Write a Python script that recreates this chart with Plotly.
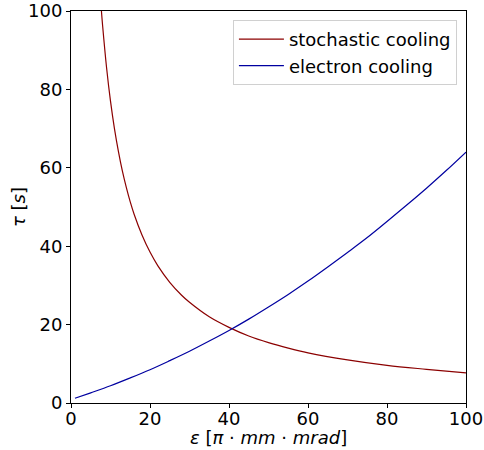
import plotly.graph_objects as go

# Stochastic cooling: emittance vs cooling time
eps_stoch = [7.7, 8, 9, 10, 11, 12, 13, 14, 15, 16, 18, 20, 22, 25, 28, 30,
             35, 40, 45, 50, 55, 60, 70, 80, 90, 100]
tau_stoch = [100, 96.3, 85.6, 77.0, 70.0, 64.2, 59.2, 55.0, 51.3, 48.1, 42.8,
             38.5, 35.0, 30.8, 27.5, 25.7, 22.0, 19.3, 17.1, 15.4, 14.0, 12.8,
             11.0, 9.6, 8.6, 7.7]

# Electron cooling
eps_elec = [1, 5, 10, 15, 20, 25, 30, 35, 40, 45, 50, 55, 60, 65, 70, 75, 80,
            85, 90, 95, 100]
tau_elec = [1.2, 2.6, 4.4, 6.4, 8.5, 10.8, 13.2, 15.8, 18.5, 21.4, 24.5, 27.7,
            31.1, 34.7, 38.4, 42.2, 46.3, 50.5, 54.8, 59.3, 64.0]

xticks = [0, 20, 40, 60, 80, 100]
yticks = [0, 20, 40, 60, 80, 100]
x_title = "<i>ε</i> [<i>π</i> · <i>mm</i> · <i>mrad</i>]"
y_title = "<i>τ</i> [<i>s</i>]"

fig = go.Figure()
fig.add_trace(go.Scatter(x=eps_stoch, y=tau_stoch, mode="lines",
                         name="stochastic cooling",
                         line=dict(color="#8b0000", width=1.2, shape="spline")))
fig.add_trace(go.Scatter(x=eps_elec, y=tau_elec, mode="lines",
                         name="electron cooling",
                         line=dict(color="#0000a0", width=1.2, shape="spline")))

font = dict(family="DejaVu Sans", size=18, color="black")
axis_common = dict(showline=True, linecolor="black", linewidth=1, mirror=True,
                   ticks="outside", ticklen=4, tickwidth=1, tickcolor="black",
                   showgrid=False, zeroline=False, tickfont=font,
                   automargin=False)

fig.update_layout(
    width=484, height=450,
    margin=dict(l=71, r=18, t=11, b=47),
    paper_bgcolor="white", plot_bgcolor="white",
    font=font,
    xaxis=dict(range=[0, 100], tickvals=xticks, ticklabelstandoff=-5,
               **axis_common),
    yaxis=dict(range=[0, 100], tickvals=yticks, **axis_common),
    legend=dict(x=0.977, y=0.977, xanchor="right", yanchor="top",
                bgcolor="white", bordercolor="#d0d0d0", borderwidth=1,
                font=font, itemwidth=45),
    annotations=[
        dict(text=x_title, xref="paper", yref="paper", x=0.5, y=0,
             xanchor="center", yanchor="middle", yshift=-34,
             showarrow=False, font=font),
        dict(text=y_title, xref="paper", yref="paper", x=0, y=0.5,
             xanchor="center", yanchor="middle", xshift=-53, textangle=-90,
             showarrow=False, font=font),
    ],
)

fig.write_html("out.html")
